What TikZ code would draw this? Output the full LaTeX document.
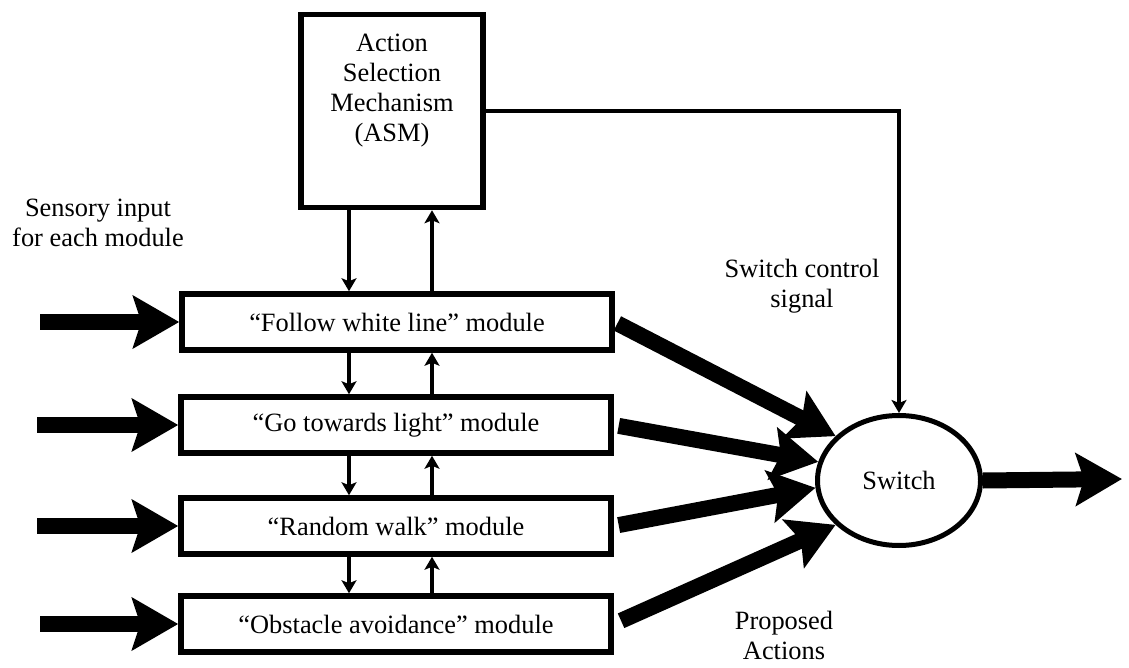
\documentclass[tikz,border=0pt]{standalone}
\usepackage{fontspec}
\setmainfont{Liberation Serif}
\usetikzlibrary{shapes.geometric,arrows.meta,positioning}

\begin{document}
\begin{tikzpicture}[x=1pt,y=-1pt,
    font=\fontsize{26.4}{30}\selectfont,
    box/.style={draw, line width=5.5pt, minimum width=430pt, minimum height=56pt, inner sep=0pt},
    fat/.style={line width=16pt, -{Stealth[length=46pt,width=52pt,inset=8pt]}},
    sig/.style={line width=4.5pt, -{Stealth[length=13pt,width=15pt,inset=3pt]}}]
    \useasboundingbox (0,0) rectangle (1129,668);
    % --------
    % ASM
    % --------
    \node[draw, line width=5.5pt, minimum width=182pt, minimum height=193pt] at (392,111) (asm) {};
    \node[align=center] at (392,91) (asmText) {Action\\Selection\\Mechanism\\(ASM)};

    % --------
    % Modules
    % --------
    \node[box] at (397,322) (m1) {“Follow white line” module};
    \node[box] at (396,425) (m2) {“Go towards light” module};
    \node[box] at (396,526) (m3) {“Random walk” module};
    \node[box] at (396,624) (m4) {“Obstacle avoidance” module};

    \node[draw, ellipse, line width=5pt, minimum width=163pt, minimum height=130pt, inner sep=0pt] at (899,480.5) (sw) {Switch};

    % labels
    \node[align=center] at (98,223) (sensory) {Sensory input\\for each module};
    \node[align=center] at (802,286) (ctrl) {Switch control\\signal};
    \node[align=center] at (784,635) (proposed) {Proposed\\Actions};

    % ends of the free arrows
    \coordinate (in1) at (40,322);
    \coordinate (in2) at (37,425);
    \coordinate (in3) at (37,526);
    \coordinate (in4) at (40,624);
    \coordinate (out) at (1122,479);
    \coordinate (dn) at (349,0);
    \coordinate (up) at (432,0);

    % Draw line
    \draw[fat] (in1) -- (m1.west);
    \draw[fat] (in2) -- (m2.west);
    \draw[fat] (in3) -- (m3.west);
    \draw[fat] (in4) -- (m4.west);

    \draw[fat,shorten <=3pt] (m1.east) -- (sw.145);
    \draw[fat,shorten <=5pt] (m2.east) -- (sw.167);
    \draw[fat,shorten <=5pt] (m3.east) -- (sw.185);
    \draw[fat,shorten <=8pt] (m4.east) -- (sw.215);
    \draw[fat] (sw.east) -- (out);

    \draw[sig] (asm.south -| dn) -- (m1.north -| dn);
    \draw[sig] (m1.north -| up) -- (asm.south -| up);
    \draw[sig] (m1.south -| dn) -- (m2.north -| dn);
    \draw[sig] (m2.north -| up) -- (m1.south -| up);
    \draw[sig] (m2.south -| dn) -- (m3.north -| dn);
    \draw[sig] (m3.north -| up) -- (m2.south -| up);
    \draw[sig] (m3.south -| dn) -- (m4.north -| dn);
    \draw[sig] (m4.north -| up) -- (m3.south -| up);

    \draw[sig] (asm.east) -| (sw.north);
\end{tikzpicture}
\end{document}
